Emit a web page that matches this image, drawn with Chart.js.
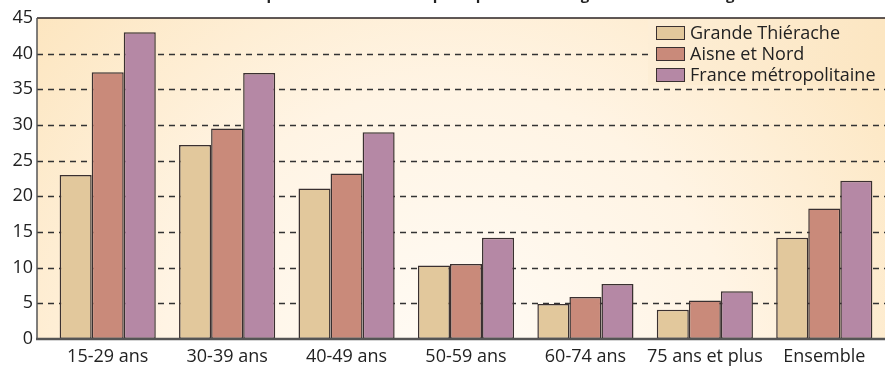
<!DOCTYPE html>
<html>
<head>
<meta charset="utf-8">
<script src="https://cdn.jsdelivr.net/npm/chart.js@4"></script>
<style>
  html, body { margin: 0; padding: 0; background: #fff; overflow: hidden; }
  #wrap { position: relative; width: 885px; height: 367px; overflow: hidden; }
  #chart { position: absolute; left: 0; top: -20px; }
  #legend { position: absolute; left: 648px; top: 19px; width: 229px; height: 63px; padding: 3px 0 0 8px;
            background: linear-gradient(90deg, #fdeed6, #fce6c2); font-family: "Open Sans", sans-serif; font-size: 18px; color: #222; }
  #legend div { height: 21px; line-height: 21px; white-space: nowrap; }
  #legend span.sw { display: inline-block; width: 27px; height: 12px; border: 1.5px solid #3a3030; vertical-align: -1px; margin-right: 5px; }
</style>
</head>
<body>
<div id="wrap">
  <canvas id="chart" width="885" height="387"></canvas>
  <div id="legend"></div>
</div>
<script>
// data
const categories = ['15-29 ans', '30-39 ans', '40-49 ans', '50-59 ans', '60-74 ans', '75 ans et plus', 'Ensemble'];
const seriesNames = ['Grande Thiérache', 'Aisne et Nord', 'France métropolitaine'];
const grandeThierache = [23.0, 27.2, 21.1, 10.3, 4.9, 4.1, 14.2];
const aisneNord = [37.4, 29.5, 23.2, 10.5, 5.9, 5.4, 18.3];
const france = [43.0, 37.3, 29.0, 14.2, 7.7, 6.7, 22.2];
const yTicks = [0, 5, 10, 15, 20, 25, 30, 35, 40, 45];
const titleText = "Taux de sur-occupation des résidences principales selon l'âge du chef de ménage";

const colors = ['#e2c89c', '#c98a7a', '#b588a5'];
const edge = '#3a3030';
const frameLeft = 37;

// background, dashed grid and frame
const framePlugin = {
    id: 'frame',
    beforeDraw(chart) {
        const ctx = chart.ctx, a = chart.chartArea;
        const g = ctx.createRadialGradient(450, a.bottom + 40, 20, 450, a.bottom + 40, 620);
        g.addColorStop(0, '#fffbf5');
        g.addColorStop(0.45, '#fff4e4');
        g.addColorStop(1, '#fce2b6');
        ctx.save();
        ctx.fillStyle = g;
        ctx.fillRect(frameLeft, a.top, chart.width - frameLeft, a.bottom - a.top);
        ctx.restore();
    },
    beforeDatasetsDraw(chart) {
        const ctx = chart.ctx, y = chart.scales.y;
        ctx.save();
        ctx.strokeStyle = '#333';
        ctx.lineWidth = 1.3;
        ctx.setLineDash([6, 5]);
        yTicks.forEach(v => {
            if (v === 0 || v === 45) return;
            const py = Math.round(y.getPixelForValue(v)) + 0.5;
            ctx.beginPath();
            ctx.moveTo(frameLeft, py);
            ctx.lineTo(chart.width, py);
            ctx.stroke();
        });
        ctx.restore();
    },
    afterDatasetsDraw(chart) {
        const ctx = chart.ctx, a = chart.chartArea;
        ctx.save();
        ctx.strokeStyle = '#2a2222';
        ctx.lineWidth = 1.5;
        ctx.beginPath();
        ctx.moveTo(frameLeft, a.top);
        ctx.lineTo(chart.width, a.top);
        ctx.stroke();
        ctx.strokeStyle = '#555';
        ctx.beginPath();
        ctx.moveTo(frameLeft, a.top);
        ctx.lineTo(frameLeft, a.bottom);
        ctx.stroke();
        ctx.lineWidth = 2.5;
        ctx.beginPath();
        ctx.moveTo(frameLeft - 1, a.bottom);
        ctx.lineTo(chart.width, a.bottom);
        ctx.stroke();
        ctx.restore();
    }
};

const datasets = [grandeThierache, aisneNord, france].map((d, i) => ({
    label: seriesNames[i],
    data: d,
    backgroundColor: colors[i],
    borderColor: edge,
    borderWidth: 1.5,
    borderSkipped: false,
    barPercentage: 1,
    categoryPercentage: 0.805
}));

const ctx = document.getElementById('chart').getContext('2d');
new Chart(ctx, {
    type: 'bar',
    data: { labels: categories, datasets: datasets },
    options: {
        responsive: false,
        animation: false,
        layout: { padding: { left: 0, right: 1, top: 0, bottom: 0 } },
        plugins: {
            legend: { display: false },
            tooltip: { enabled: false },
            title: {
                display: true,
                text: titleText,
                color: '#222',
                font: { family: 'Open Sans', size: 15, weight: 'bold', lineHeight: 1.2 },
                padding: { top: 7, bottom: 13 }
            }
        },
        scales: {
            x: {
                afterFit(scale) { scale.height = 28; },
                grid: { display: false, drawTicks: false },
                border: { display: false },
                ticks: {
                    color: '#222',
                    font: { family: 'Open Sans', size: 18, lineHeight: 1.2 },
                    padding: 7,
                    maxRotation: 0,
                    autoSkip: false
                }
            },
            y: {
                min: 0,
                max: 45,
                afterBuildTicks(scale) { scale.ticks = yTicks.map(v => ({ value: v })); },
                afterFit(scale) { scale.width = 48; },
                grid: { display: false, drawTicks: false },
                border: { display: false },
                ticks: {
                    color: '#222',
                    font: { family: 'Open Sans', size: 18 },
                    padding: 15
                }
            }
        }
    },
    plugins: [framePlugin]
});

// legend
const legend = document.getElementById('legend');
seriesNames.forEach((name, i) => {
    const row = document.createElement('div');
    const sw = document.createElement('span');
    sw.className = 'sw';
    sw.style.background = colors[i];
    row.appendChild(sw);
    row.appendChild(document.createTextNode(name));
    legend.appendChild(row);
});
</script>
</body>
</html>
